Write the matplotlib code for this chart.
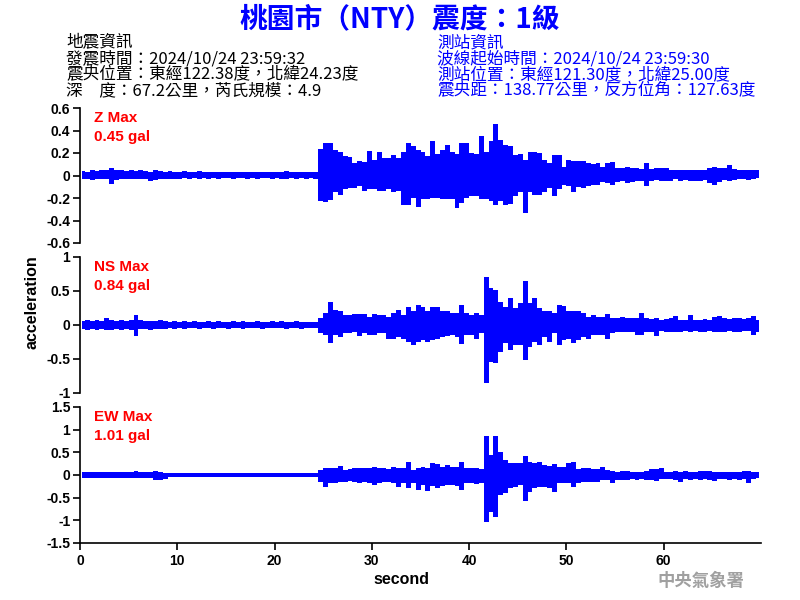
import numpy as np
import matplotlib
matplotlib.use("Agg")
import matplotlib.pyplot as plt

# ---------------- data (peak / trough per 0.5 s bin) ----------------
bin_width = 0.5
n_bins = 140  # 0 .. 70 s

z_hi = [
    0.04, 0.035, 0.045, 0.04, 0.05, 0.045, 0.07, 0.05, 0.045, 0.04,
    0.045, 0.04, 0.05, 0.04, 0.035, 0.045, 0.04, 0.035, 0.04, 0.035,
    0.035, 0.04, 0.03, 0.035, 0.04, 0.03, 0.035, 0.03, 0.035, 0.03,
    0.03, 0.035, 0.03, 0.03, 0.035, 0.03, 0.03, 0.035, 0.03, 0.03,
    0.03, 0.035, 0.04, 0.03, 0.035, 0.03, 0.03, 0.035, 0.03, 0.24,
    0.29, 0.29, 0.23, 0.21, 0.17, 0.165, 0.11, 0.13, 0.12, 0.22,
    0.14, 0.21, 0.16, 0.16, 0.18, 0.16, 0.21, 0.29, 0.26, 0.23,
    0.21, 0.17, 0.31, 0.19, 0.23, 0.27, 0.21, 0.19, 0.29, 0.29,
    0.20, 0.19, 0.35, 0.21, 0.31, 0.46, 0.32, 0.27, 0.26, 0.18,
    0.19, 0.14, 0.21, 0.21, 0.20, 0.14, 0.11, 0.18, 0.18, 0.08,
    0.14, 0.13, 0.13, 0.13, 0.11, 0.10, 0.11, 0.08, 0.11, 0.12,
    0.07, 0.07, 0.08, 0.07, 0.07, 0.06, 0.11, 0.06, 0.07, 0.065,
    0.07, 0.05, 0.05, 0.05, 0.047, 0.047, 0.05, 0.047, 0.05, 0.07,
    0.08, 0.07, 0.07, 0.09, 0.06, 0.05, 0.047, 0.05, 0.05, 0.047,
]
z_lo = [
    -0.03, -0.035, -0.04, -0.03, -0.035, -0.03, -0.075, -0.04, -0.035, -0.03,
    -0.035, -0.03, -0.03, -0.035, -0.045, -0.04, -0.03, -0.03, -0.035, -0.03,
    -0.03, -0.025, -0.03, -0.025, -0.03, -0.025, -0.03, -0.025, -0.03, -0.025,
    -0.025, -0.03, -0.025, -0.025, -0.03, -0.025, -0.03, -0.025, -0.025, -0.03,
    -0.025, -0.03, -0.035, -0.025, -0.03, -0.025, -0.03, -0.025, -0.03, -0.23,
    -0.235, -0.22, -0.15, -0.17, -0.12, -0.11, -0.11, -0.094, -0.14, -0.12,
    -0.12, -0.14, -0.14, -0.12, -0.15, -0.14, -0.26, -0.26, -0.20, -0.28,
    -0.21, -0.21, -0.20, -0.20, -0.21, -0.21, -0.21, -0.29, -0.24, -0.20,
    -0.18, -0.18, -0.21, -0.21, -0.23, -0.26, -0.23, -0.26, -0.25, -0.18,
    -0.15, -0.33, -0.15, -0.17, -0.17, -0.15, -0.11, -0.18, -0.12, -0.08,
    -0.09, -0.15, -0.10, -0.11, -0.09, -0.08, -0.08, -0.06, -0.065, -0.08,
    -0.06, -0.05, -0.065, -0.06, -0.05, -0.053, -0.09, -0.047, -0.044, -0.05,
    -0.047, -0.047, -0.035, -0.05, -0.041, -0.047, -0.05, -0.047, -0.041, -0.065,
    -0.085, -0.06, -0.044, -0.05, -0.041, -0.035, -0.035, -0.041, -0.035, -0.02,
]
ns_hi = [
    0.06, 0.07, 0.06, 0.07, 0.065, 0.10, 0.07, 0.06, 0.07, 0.065,
    0.07, 0.15, 0.07, 0.06, 0.065, 0.06, 0.07, 0.065, 0.05, 0.055,
    0.05, 0.06, 0.05, 0.055, 0.05, 0.05, 0.06, 0.05, 0.055, 0.05,
    0.05, 0.055, 0.05, 0.06, 0.05, 0.05, 0.055, 0.05, 0.05, 0.06,
    0.05, 0.055, 0.05, 0.05, 0.055, 0.05, 0.05, 0.045, 0.05, 0.10,
    0.17, 0.34, 0.22, 0.20, 0.15, 0.15, 0.16, 0.16, 0.16, 0.12,
    0.16, 0.15, 0.15, 0.12, 0.17, 0.22, 0.15, 0.27, 0.20, 0.29,
    0.27, 0.20, 0.26, 0.27, 0.20, 0.20, 0.17, 0.18, 0.30, 0.18,
    0.15, 0.18, 0.15, 0.71, 0.54, 0.51, 0.34, 0.27, 0.39, 0.25,
    0.32, 0.64, 0.32, 0.39, 0.245, 0.20, 0.20, 0.17, 0.29, 0.28,
    0.20, 0.20, 0.20, 0.17, 0.12, 0.15, 0.12, 0.12, 0.16, 0.10,
    0.10, 0.12, 0.10, 0.10, 0.10, 0.17, 0.10, 0.09, 0.10, 0.075,
    0.083, 0.10, 0.13, 0.075, 0.075, 0.15, 0.075, 0.075, 0.083, 0.075,
    0.12, 0.13, 0.10, 0.083, 0.10, 0.11, 0.083, 0.10, 0.13, 0.075,
]
ns_lo = [
    -0.06, -0.07, -0.065, -0.07, -0.06, -0.08, -0.07, -0.065, -0.07, -0.06,
    -0.07, -0.16, -0.065, -0.06, -0.07, -0.06, -0.065, -0.06, -0.05, -0.055,
    -0.05, -0.055, -0.05, -0.05, -0.055, -0.05, -0.05, -0.055, -0.05, -0.05,
    -0.055, -0.05, -0.05, -0.055, -0.05, -0.05, -0.05, -0.055, -0.05, -0.05,
    -0.05, -0.05, -0.055, -0.05, -0.05, -0.055, -0.05, -0.05, -0.05, -0.12,
    -0.15, -0.27, -0.15, -0.17, -0.12, -0.12, -0.11, -0.16, -0.12, -0.15,
    -0.15, -0.12, -0.12, -0.20, -0.20, -0.17, -0.20, -0.25, -0.29, -0.25,
    -0.22, -0.25, -0.22, -0.20, -0.17, -0.16, -0.15, -0.17, -0.28, -0.15,
    -0.15, -0.20, -0.12, -0.85, -0.54, -0.56, -0.39, -0.27, -0.37, -0.29,
    -0.29, -0.51, -0.32, -0.25, -0.29, -0.17, -0.245, -0.12, -0.30, -0.22,
    -0.21, -0.27, -0.22, -0.17, -0.20, -0.15, -0.15, -0.15, -0.20, -0.12,
    -0.10, -0.11, -0.10, -0.10, -0.15, -0.15, -0.10, -0.10, -0.16, -0.083,
    -0.10, -0.11, -0.10, -0.10, -0.083, -0.10, -0.083, -0.10, -0.10, -0.088,
    -0.11, -0.10, -0.10, -0.083, -0.10, -0.10, -0.083, -0.083, -0.15, -0.10,
]
ew_hi = [
    0.06, 0.07, 0.065, 0.06, 0.07, 0.065, 0.07, 0.06, 0.065, 0.07,
    0.06, 0.09, 0.065, 0.06, 0.065, 0.08, 0.06, 0.05, 0.045, 0.04,
    0.04, 0.045, 0.04, 0.04, 0.045, 0.04, 0.04, 0.045, 0.04, 0.04,
    0.04, 0.04, 0.045, 0.04, 0.04, 0.04, 0.045, 0.04, 0.04, 0.04,
    0.045, 0.04, 0.04, 0.04, 0.045, 0.04, 0.04, 0.04, 0.045, 0.11,
    0.15, 0.16, 0.147, 0.20, 0.11, 0.125, 0.147, 0.16, 0.147, 0.147,
    0.18, 0.147, 0.147, 0.125, 0.17, 0.147, 0.147, 0.28, 0.11, 0.147,
    0.18, 0.16, 0.26, 0.24, 0.18, 0.22, 0.18, 0.18, 0.28, 0.147,
    0.16, 0.147, 0.13, 0.86, 0.44, 0.86, 0.51, 0.33, 0.27, 0.26,
    0.26, 0.42, 0.29, 0.27, 0.29, 0.22, 0.20, 0.24, 0.18, 0.18,
    0.26, 0.29, 0.125, 0.147, 0.147, 0.125, 0.125, 0.17, 0.11, 0.096,
    0.074, 0.096, 0.088, 0.074, 0.074, 0.074, 0.096, 0.14, 0.125, 0.147,
    0.074, 0.074, 0.096, 0.074, 0.096, 0.074, 0.074, 0.096, 0.088, 0.096,
    0.074, 0.074, 0.074, 0.074, 0.074, 0.074, 0.096, 0.096, 0.06, 0.06,
]
ew_lo = [
    -0.06, -0.07, -0.06, -0.07, -0.065, -0.07, -0.06, -0.065, -0.07, -0.06,
    -0.07, -0.065, -0.06, -0.07, -0.065, -0.10, -0.10, -0.08, -0.05, -0.04,
    -0.04, -0.04, -0.045, -0.04, -0.04, -0.045, -0.04, -0.04, -0.04, -0.045,
    -0.04, -0.04, -0.04, -0.045, -0.04, -0.04, -0.04, -0.045, -0.04, -0.04,
    -0.04, -0.045, -0.04, -0.04, -0.04, -0.045, -0.04, -0.04, -0.04, -0.147,
    -0.26, -0.17, -0.17, -0.147, -0.147, -0.13, -0.147, -0.18, -0.147, -0.18,
    -0.22, -0.17, -0.147, -0.147, -0.18, -0.26, -0.18, -0.28, -0.17, -0.33,
    -0.22, -0.35, -0.24, -0.29, -0.24, -0.22, -0.22, -0.24, -0.33, -0.18,
    -0.18, -0.20, -0.18, -1.03, -0.81, -0.92, -0.44, -0.40, -0.29, -0.26,
    -0.22, -0.57, -0.37, -0.29, -0.26, -0.26, -0.28, -0.37, -0.18, -0.18,
    -0.18, -0.26, -0.18, -0.147, -0.147, -0.147, -0.147, -0.11, -0.11, -0.17,
    -0.11, -0.11, -0.11, -0.096, -0.11, -0.096, -0.11, -0.11, -0.125, -0.096,
    -0.096, -0.096, -0.11, -0.147, -0.096, -0.11, -0.096, -0.11, -0.096, -0.11,
    -0.125, -0.096, -0.096, -0.11, -0.096, -0.11, -0.096, -0.17, -0.096, -0.074,
]

channels = ["Z", "NS", "EW"]
max_vals = ["0.45", "0.84", "1.01"]
ylims = [(-0.6, 0.6), (-1.0, 1.0), (-1.5, 1.5)]
yticks = [[-0.6, -0.4, -0.2, 0, 0.2, 0.4, 0.6],
          [-1, -0.5, 0, 0.5, 1],
          [-1.5, -1, -0.5, 0, 0.5, 1, 1.5]]
ytick_labels = [["-0.6", "-0.4", "-0.2", "0", "0.2", "0.4", "0.6"],
                ["-1", "-0.5", "0", "0.5", "1"],
                ["-1.5", "-1", "-0.5", "0", "0.5", "1", "1.5"]]
xticks = [0, 10, 20, 30, 40, 50, 60]

title = "桃園市（NTY）震度：1級"
quake_info = ["地震資訊",
              "發震時間：2024/10/24 23:59:32",
              "震央位置：東經122.38度，北緯24.23度",
              "深　度：67.2公里，芮氏規模：4.9"]
station_info = ["測站資訊",
                "波線起始時間：2024/10/24 23:59:30",
                "測站位置：東經121.30度，北緯25.00度",
                "震央距：138.77公里，反方位角：127.63度"]

series = [(z_hi, z_lo), (ns_hi, ns_lo), (ew_hi, ew_lo)]

# ---------------- figure ----------------
W, H = 800, 600
fig = plt.figure(figsize=(8, 6), dpi=100)
fig.patch.set_facecolor("white")

LAT = ["Liberation Sans", "Noto Sans CJK TC", "DejaVu Sans"]
CJK = ["Noto Sans CJK TC", "Liberation Sans", "DejaVu Sans"]
blue = "#0000FF"

def px(x, y):
    return x / W, 1 - y / H

panel_px = [(108, 243), (257, 393), (407, 543)]
left_px, right_px = 80, 761

bins = np.arange(n_bins) * bin_width
for i, (top, bot) in enumerate(panel_px):
    ax = fig.add_axes([left_px / W, 1 - bot / H, (right_px - left_px) / W, (bot - top) / H])
    hi, lo = series[i]
    centers = bins + bin_width / 2
    ax.fill_between(centers, lo, hi, step="mid", color=blue, lw=0)
    ax.set_xlim(0, 70)
    ax.set_ylim(*ylims[i])
    ax.set_yticks(yticks[i])
    ax.set_yticklabels(ytick_labels[i], fontfamily=LAT, fontweight="bold", fontsize=10)
    for s in ["top", "right"]:
        ax.spines[s].set_visible(False)
    ax.spines["left"].set_linewidth(1.2)
    ax.tick_params(axis="y", direction="out", length=5, width=1.2, pad=2)
    if i < 2:
        ax.spines["bottom"].set_visible(False)
        ax.set_xticks([])
    else:
        ax.spines["bottom"].set_linewidth(1.2)
        ax.set_xticks(xticks)
        ax.set_xticklabels([str(v) for v in xticks], fontfamily=LAT,
                           fontweight="bold", fontsize=10)
        ax.tick_params(axis="x", direction="out", length=5, width=1.2, pad=3)
    ax.patch.set_alpha(0)
    fig.text(*px(94, top + 10), f"{channels[i]} Max", color="red", fontsize=11,
             fontweight="bold", fontfamily=LAT, ha="left", va="center")
    fig.text(*px(94, top + 29), f"{max_vals[i]} gal", color="red", fontsize=11,
             fontweight="bold", fontfamily=LAT, ha="left", va="center")

# title
fig.text(*px(400, 19), title, color=blue, fontsize=20, fontweight="bold",
         fontfamily=CJK, ha="center", va="center")

# info blocks
for k, line in enumerate(quake_info):
    fig.text(*px(66, 43 + 16 * k), line, color="black", fontsize=12,
             fontfamily=CJK, ha="left", va="center")
for k, line in enumerate(station_info):
    fig.text(*px(437, 43 + 16 * k), line, color=blue, fontsize=12,
             fontfamily=CJK, ha="left", va="center")

# axis labels
fig.text(*px(32, 302), "acceleration", rotation=90, fontsize=11.5, fontweight="bold",
         fontfamily=LAT, ha="center", va="center")
fig.text(*px(401, 580), "second", fontsize=11.5, fontweight="bold",
         fontfamily=LAT, ha="center", va="center")
fig.text(*px(701, 581), "中央氣象署", fontsize=12.5, fontweight="bold", color="#A0A0A0",
         fontfamily=CJK, ha="center", va="center")

fig.savefig("out.png", dpi=100, facecolor="white")
